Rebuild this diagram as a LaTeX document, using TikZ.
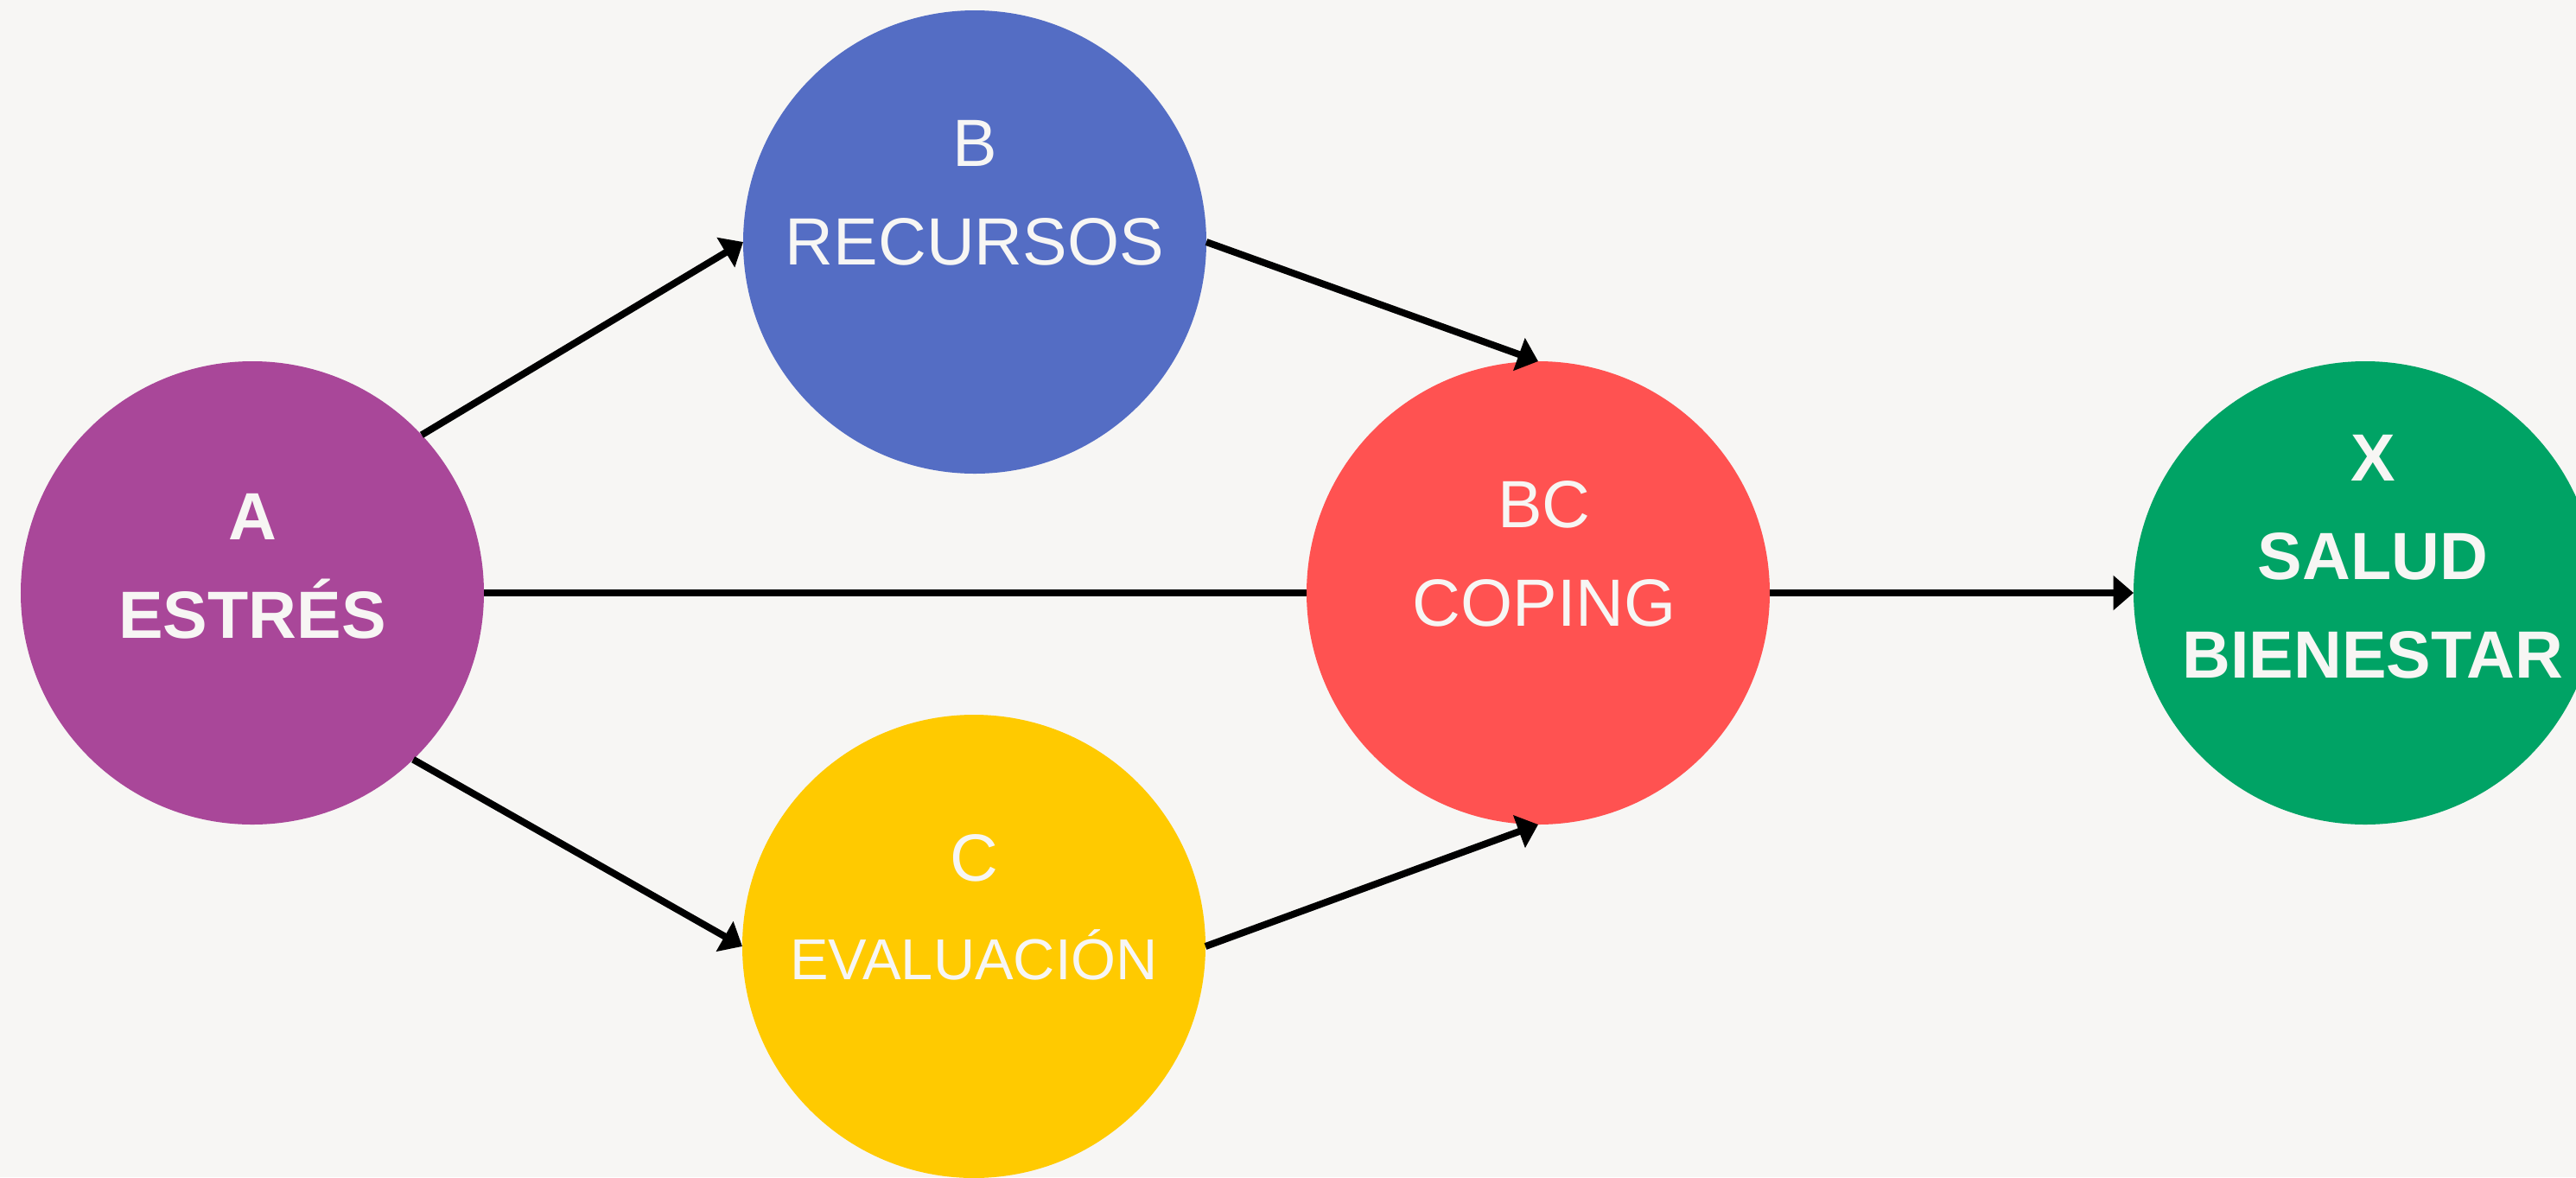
\documentclass[tikz,border=0pt]{standalone}
\usepackage{fontspec}
\setmainfont{Liberation Sans}
\usetikzlibrary{arrows.meta}

\definecolor{bgc}{HTML}{F7F6F4}
\definecolor{estres}{HTML}{A94799}
\definecolor{recursos}{HTML}{546DC4}
\definecolor{coping}{HTML}{FF5251}
\definecolor{evaluacion}{HTML}{FFCA00}
\definecolor{salud}{HTML}{00A365}

\tikzset{
  bubble/.style={circle,minimum size=5.36cm,inner sep=0pt,outer sep=0pt},
  lbl/.style={text=bgc,align=center,font=\fontsize{22}{32.4}\selectfont},
  lblbold/.style={lbl,font=\fontsize{22}{32.4}\selectfont\bfseries},
  conn/.style={line width=0.8mm,-{Triangle[length=2.35mm,width=3.9mm]}}
}

\begin{document}
\begin{tikzpicture}

%CANVAS
\useasboundingbox (0,0) rectangle (29.81,-13.62);
\clip (0,0) rectangle (29.81,-13.62);
\fill[bgc] (0,0) rectangle (29.81,-13.62);

%NODES
% left: stress
\node[bubble,fill=estres] (A) at (2.92,-6.86) {};
% upper and lower branches
\node[bubble,fill=recursos] (B) at (11.28,-2.80) {};
\node[bubble,fill=evaluacion] (C) at (11.27,-10.95) {};
% middle: coping
\node[bubble,fill=coping] (BC) at (17.80,-6.86) {};
% right: health
\node[bubble,fill=salud] (X) at (27.37,-6.86) {};

%LABELS
\node[lblbold] (A-lbl) at ([yshift=0.31cm]A.center) {A\\ESTRÉS};
\node[lbl] (B-lbl) at ([yshift=0.57cm]B.center) {B\\RECURSOS};
\node[lbl] (C-lbl) at ([yshift=0.45cm]C.center) {C\\\fontsize{19}{32.4}\selectfont EVALUACIÓN};
\node[lbl] (BC-lbl) at ([xshift=0.07cm,yshift=0.45cm]BC.center) {BC\\COPING};
\node[lblbold] (X-lbl) at ([xshift=0.09cm,yshift=0.42cm]X.center) {X\\SALUD\\BIENESTAR};

%ARROWS
\draw[conn] (A.43) -- (B.west);
\draw[line width=0.8mm] (A.east) -- (BC.west);
\draw[conn] (A.-46) -- (C.west);
\draw[conn] (B.east) -- (BC.north);
\draw[conn] (C.east) -- (BC.south);
\draw[conn] (BC.east) -- (X.west);

\end{tikzpicture}
\end{document}
